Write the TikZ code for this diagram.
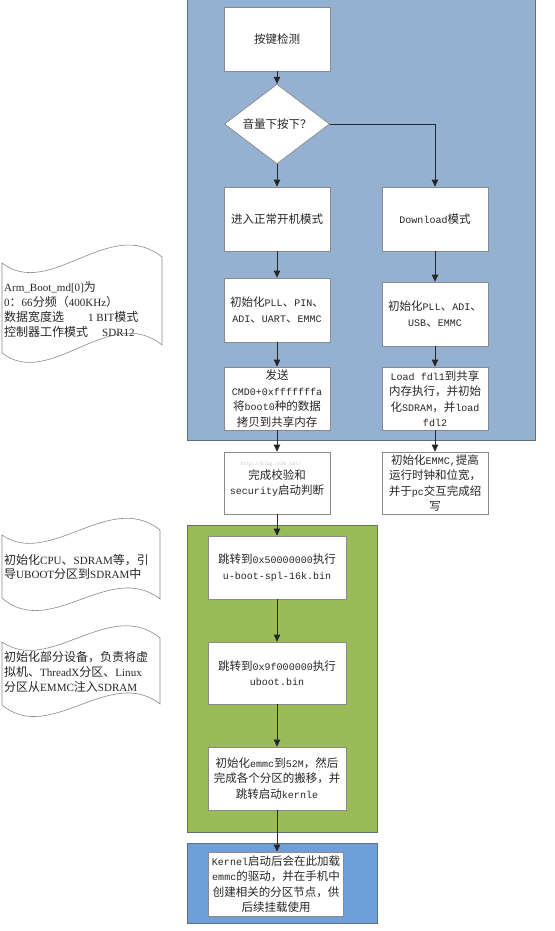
\documentclass[tikz,border=0pt]{standalone}
\usepackage{fontspec}
\setmainfont{Noto Sans CJK SC}
\newfontfamily\latm[Scale=0.87]{Liberation Mono}
\newfontfamily\lats[Scale=0.92]{Liberation Serif}
\newcommand\mlat[1]{{\latm #1}}
\newcommand\slat[1]{{\lats #1}}
\usetikzlibrary{shapes.geometric,arrows.meta}
\definecolor{panelA}{HTML}{95B1D1}
\definecolor{panelG}{HTML}{9BBB59}
\definecolor{panelB}{HTML}{6F9FD9}
\definecolor{pborder}{HTML}{5F6F80}
\definecolor{bborder}{HTML}{8A8A8A}
\definecolor{txt}{HTML}{262626}
\tikzset{
  panel/.style={draw=pborder, line width=0.9pt},
  box/.style={draw=bborder, fill=white, line width=0.7pt, align=center, inner sep=1pt,
    text=txt, font=\fontsize{11.5}{15.5}\selectfont},
  decision/.style={diamond, draw=bborder, fill=white, line width=0.7pt, inner sep=0pt,
    minimum width=105pt, minimum height=62pt, text=txt, font=\fontsize{11.5}{15.5}\selectfont},
  arr/.style={draw=black!85, line width=0.7pt, -{Triangle[length=7pt,width=6.5pt]}},
  tape/.style={draw=bborder, fill=white, line width=0.6pt},
  doctext/.style={align=left, inner sep=0pt, anchor=west, text=txt}
}
\begin{document}
\begin{tikzpicture}[x=1pt,y=-1pt]
\useasboundingbox (0,0) rectangle (554,931);
% panels
\fill[white] (0,0) rectangle (554,931);
\draw[panel, fill=panelA] (187,-2) rectangle (535,440);
\draw[panel, fill=panelG] (187,525) rectangle (377,832);
\draw[panel, fill=panelB] (187,843) rectangle (377,923);

% top flow
\node[box, minimum width=106pt, minimum height=64pt] (k1) at (277,39) {按键检测};
\node[decision] (dia) at (277,124) {音量下按下？};
\node[box, minimum width=106pt, minimum height=64pt] (enter) at (277,219) {进入正常开机模式};
\node[box, minimum width=106pt, minimum height=64pt] (dl) at (435,219) {\mlat{Download}模式};
\node[box, minimum width=106pt, minimum height=64pt] (init1) at (277,310) {初始化\mlat{PLL}、\mlat{PIN}、\\\mlat{ADI}、\mlat{UART}、\mlat{EMMC}};
\node[box, minimum width=106pt, minimum height=64pt] (init2) at (435,314) {初始化\mlat{PLL}、\mlat{ADI}、\\\mlat{USB}、\mlat{EMMC}};
\node[box, minimum width=106pt, minimum height=63pt] (send) at (277,398.5) {发送\\\mlat{CMD0+0xfffffffa}\\将\mlat{boot0}种的数据\\拷贝到共享内存};
\node[box, minimum width=106pt, minimum height=63pt] (load) at (435,398.5) {\mlat{Load fdl1}到共享\\内存执行，并初始\\化\mlat{SDRAM}，并\mlat{load}\\\mlat{fdl2}};
\node[box, minimum width=106pt, minimum height=62pt] (verify) at (277,483) {完成校验和\\\mlat{security}启动判断};
\node[text=gray!45, font=\fontsize{5.5}{6}\selectfont\latm, inner sep=0pt] (wm) at (271,464) {http://blog.csdn.net/};
\node[box, minimum width=106pt, minimum height=62pt] (emmc) at (435,483) {初始化\mlat{EMMC,}提高\\运行时钟和位宽，\\并于\mlat{pc}交互完成绍\\写};

% green flow
\node[box, minimum width=138pt, minimum height=63pt] (jump1) at (277,567.5) {跳转到\mlat{0x50000000}执行\\\mlat{u-boot-spl-16k.bin}};
\node[box, minimum width=138pt, minimum height=62pt] (jump2) at (277,673) {跳转到\mlat{0x9f000000}执行\\\mlat{uboot.bin}};
\node[box, minimum width=138pt, minimum height=63pt] (emmc52) at (277,778.5) {初始化\mlat{emmc}到\mlat{52M}，然后\\完成各个分区的搬移，并\\跳转启动\mlat{kernle}};
\node[box, minimum width=135pt, minimum height=64pt] (kernel) at (276,884) {\mlat{Kernel}启动后会在此加载\\\mlat{emmc}的驱动，并在手机中\\创建相关的分区节点，供\\后续挂载使用};

% connectors
\draw[arr] (k1) -- (dia);
\draw[arr] (dia) -- (enter);
\draw[arr] (dia.east) -| (dl.north);
\draw[arr] (enter) -- (init1);
\draw[arr] (dl) -- (init2);
\draw[arr] (init1) -- (send);
\draw[arr] (init2) -- (load);
\draw[arr] (send) -- (verify);
\draw[arr] (load) -- (emmc);
\draw[arr] (verify) -- (jump1);
\draw[arr] (jump1) -- (jump2);
\draw[arr] (jump2) -- (emmc52);
\draw[arr] (emmc52.south) -- (emmc52.south |- kernel.north);

% left tape notes
\draw[tape] (2,263) .. controls (50,300) and (110,215) .. (162,257)
  -- (162,345) .. controls (110,303) and (50,390) .. (2,353) -- cycle;
\node[doctext, font=\fontsize{12}{15}\selectfont] (note1) at (4,309.5)
  {\slat{Arm\_Boot\_md[0]}为\\\slat{0}：\slat{66}分频（\slat{400KHz}）\\数据宽度选\hspace{24pt}\slat{1 BIT}模式\\控制器工作模式\hspace{14pt}\slat{SDR12}};

\draw[tape] (2,535) .. controls (50,568) and (110,490) .. (160,530)
  -- (160,599) .. controls (110,560) and (50,640) .. (2,598) -- cycle;
\node[doctext, font=\fontsize{12}{14}\selectfont] (note2) at (4,567)
  {初始化\slat{CPU}、\slat{SDRAM}等，引\\导\slat{UBOOT}分区到\slat{SDRAM}中};

\draw[tape] (2,642) .. controls (50,675) and (110,597) .. (160,638)
  -- (160,704) .. controls (110,665) and (50,745) .. (2,705) -- cycle;
\node[doctext, font=\fontsize{12}{15}\selectfont] (note3) at (4,672)
  {初始化部分设备，负责将虚\\拟机、\slat{ThreadX}分区、\slat{Linux}\\分区从\slat{EMMC}注入\slat{SDRAM}};
\end{tikzpicture}
\end{document}
